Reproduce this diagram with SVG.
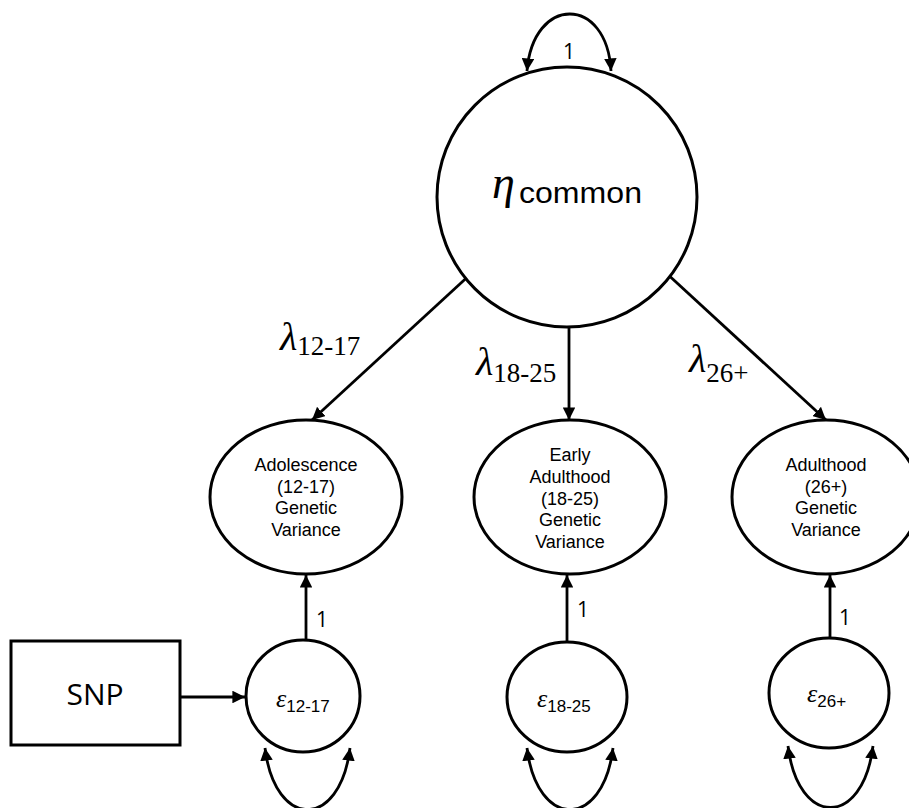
<svg xmlns="http://www.w3.org/2000/svg" width="909" height="808" viewBox="0 0 909 808">
<style>
.sh{fill:#fff;stroke:#000;stroke-width:3}
.ln{fill:none;stroke:#000;stroke-width:2.8}
.t{font-family:"Liberation Sans",Arial,sans-serif;fill:#000}
.g{font-family:"Liberation Serif","DejaVu Serif",serif;font-style:italic;fill:#000}
.s{font-family:"Liberation Serif",serif;fill:#000}
.c{font-family:"Open Sans","Noto Sans",sans-serif;fill:#000}
</style>
<defs>
<marker id="ah" viewBox="0 0 10 10" refX="10" refY="5" markerWidth="4.5" markerHeight="4.5" orient="auto-start-reverse" markerUnits="strokeWidth">
<path d="M0,0 L10,5 L0,10 z" fill="#000"/>
</marker>
</defs>
<g id="connectors">
<path class="ln" d="M527,71 C533,-5 607,-5 611,71" marker-start="url(#ah)" marker-end="url(#ah)"/>
<line class="ln" x1="474" y1="271" x2="312" y2="420" marker-end="url(#ah)"/>
<line class="ln" x1="569" y1="327" x2="569" y2="420" marker-end="url(#ah)"/>
<line class="ln" x1="664" y1="271" x2="826" y2="420" marker-end="url(#ah)"/>
<line class="ln" x1="306" y1="640" x2="306" y2="575" marker-end="url(#ah)"/>
<line class="ln" x1="567" y1="642" x2="567" y2="575" marker-end="url(#ah)"/>
<line class="ln" x1="830" y1="638" x2="830" y2="575" marker-end="url(#ah)"/>
<line class="ln" x1="180" y1="697" x2="245" y2="697" marker-end="url(#ah)"/>
<path class="ln" d="M265,748 C275,830 340,830 350,748" marker-start="url(#ah)" marker-end="url(#ah)"/>
<path class="ln" d="M527,748 C537,830 603,830 613,748" marker-start="url(#ah)" marker-end="url(#ah)"/>
<path class="ln" d="M788,746 C798,828 863,828 873,746" marker-start="url(#ah)" marker-end="url(#ah)"/>
<text class="c" x="563" y="59" font-size="21">1</text>
<text x="280" y="350"><tspan class="g" font-size="40">λ</tspan><tspan class="s" font-size="27" dy="5">12-17</tspan></text>
<text x="476" y="375"><tspan class="g" font-size="40">λ</tspan><tspan class="s" font-size="27" dy="7">18-25</tspan></text>
<text x="689" y="372"><tspan class="g" font-size="40">λ</tspan><tspan class="s" font-size="27" dy="10">26+</tspan></text>
<text class="c" x="316" y="627" font-size="21">1</text>
<text class="c" x="577" y="617" font-size="21">1</text>
<text class="c" x="839" y="625" font-size="21">1</text>
</g>
<g id="eta">
<circle class="sh" cx="567" cy="197" r="130"/>
<text class="g" x="492" y="198" font-size="46">η</text>
<text class="t" x="519" y="203" font-size="30" textLength="123" lengthAdjust="spacingAndGlyphs">common</text>
</g>
<g id="adol">
<ellipse class="sh" cx="306" cy="497" rx="96" ry="77"/>
<g class="t" font-size="18" text-anchor="middle">
<text x="306" y="471">Adolescence</text>
<text x="306" y="493">(12-17)</text>
<text x="306" y="514">Genetic</text>
<text x="306" y="536">Variance</text>
</g>
</g>
<g id="early">
<ellipse class="sh" cx="570" cy="497" rx="96" ry="77"/>
<g class="t" font-size="18" text-anchor="middle">
<text x="570" y="461">Early</text>
<text x="570" y="483">Adulthood</text>
<text x="570" y="505">(18-25)</text>
<text x="570" y="526">Genetic</text>
<text x="570" y="548">Variance</text>
</g>
</g>
<g id="adult">
<ellipse class="sh" cx="826" cy="497" rx="94" ry="77"/>
<g class="t" font-size="18" text-anchor="middle">
<text x="826" y="471">Adulthood</text>
<text x="826" y="493">(26+)</text>
<text x="826" y="514">Genetic</text>
<text x="826" y="536">Variance</text>
</g>
</g>
<g id="e1">
<ellipse class="sh" cx="303" cy="696" rx="57" ry="56"/>
<text x="276" y="707"><tspan class="g" font-size="26">ε</tspan><tspan class="t" font-size="17" dy="5">12-17</tspan></text>
</g>
<g id="e2">
<ellipse class="sh" cx="567" cy="697" rx="60" ry="55"/>
<text x="537" y="707"><tspan class="g" font-size="26">ε</tspan><tspan class="t" font-size="17" dy="5">18-25</tspan></text>
</g>
<g id="e3">
<ellipse class="sh" cx="829" cy="693" rx="60" ry="55"/>
<text x="807" y="702"><tspan class="g" font-size="26">ε</tspan><tspan class="t" font-size="17" dy="5">26+</tspan></text>
</g>
<g id="snp">
<rect class="sh" x="11" y="641" width="169" height="104"/>
<text class="c" x="95" y="705" font-size="30" text-anchor="middle">SNP</text>
</g>
</svg>
